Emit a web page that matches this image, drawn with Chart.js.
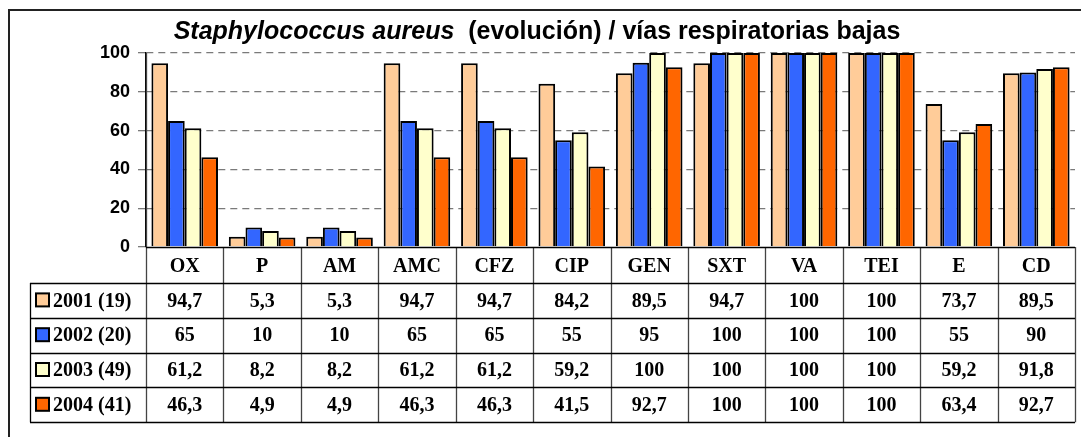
<!DOCTYPE html>
<html>
<head>
<meta charset="utf-8">
<script src="https://cdn.jsdelivr.net/npm/chart.js@4/dist/chart.umd.min.js"></script>
<style>
  html, body { margin: 0; padding: 0; background: #fff; }
  #wrap { width: 1081px; height: 437px; }
</style>
</head>
<body>
<div id="wrap"><canvas id="chart" width="1081" height="437"></canvas></div>
<script>
const categories = ['OX', 'P', 'AM', 'AMC', 'CFZ', 'CIP', 'GEN', 'SXT', 'VA', 'TEI', 'E', 'CD'];
const seriesLabels = ['2001 (19)', '2002 (20)', '2003 (49)', '2004 (41)'];
const values2001 = [94.7, 5.3, 5.3, 94.7, 94.7, 84.2, 89.5, 94.7, 100, 100, 73.7, 89.5];
const values2002 = [65, 10, 10, 65, 65, 55, 95, 100, 100, 100, 55, 90];
const values2003 = [61.2, 8.2, 8.2, 61.2, 61.2, 59.2, 100, 100, 100, 100, 59.2, 91.8];
const values2004 = [46.3, 4.9, 4.9, 46.3, 46.3, 41.5, 92.7, 100, 100, 100, 63.4, 92.7];
const yTicks = [0, 20, 40, 60, 80, 100];

const seriesValues = [values2001, values2002, values2003, values2004];
const colors = ['#FFCC99', '#3366FF', '#FFFFCC', '#FF6600'];

const SANS = "'Liberation Sans', Arial, sans-serif";
const SERIF = "'Liberation Serif', 'Times New Roman', serif";
const ROW_H = 34.8;

// title with italic species name, frame, and the data table under the axis
const tablePlugin = {
    id: 'tablePlugin',
    afterDraw(chart) {
        const ctx = chart.ctx;
        const area = chart.chartArea;
        const x = chart.scales.x;
        const colW = (area.right - area.left) / categories.length;
        const headBottom = area.bottom + 36;
        const tableBottom = headBottom + ROW_H * seriesLabels.length;
        const legendLeft = 30;

        ctx.save();

        // outer frame (top + left only, rest is cut off)
        ctx.strokeStyle = '#222';
        ctx.lineWidth = 2;
        ctx.beginPath();
        ctx.moveTo(9, 437);
        ctx.lineTo(9, 10);
        ctx.lineTo(1081, 10);
        ctx.stroke();

        // title
        ctx.fillStyle = '#000';
        ctx.textBaseline = 'alphabetic';
        ctx.textAlign = 'left';
        const part1 = 'Staphylococcus aureus';
        const part2 = '  (evolución) / vías respiratorias bajas';
        ctx.font = 'italic bold 25px ' + SANS;
        const w1 = ctx.measureText(part1).width;
        ctx.font = 'bold 25px ' + SANS;
        const w2 = ctx.measureText(part2).width;
        let tx = 537 - (w1 + w2) / 2;
        ctx.font = 'italic bold 25px ' + SANS;
        ctx.fillText(part1, tx, 39);
        ctx.font = 'bold 25px ' + SANS;
        ctx.fillText(part2, tx + w1, 39);

        // table grid
        ctx.lineWidth = 1.3;
        ctx.strokeStyle = '#444';
        ctx.beginPath();
        for (let i = 0; i <= categories.length; i++) {
            const cx = Math.round(area.left + i * colW) + 0.5;
            ctx.moveTo(cx, i === 0 ? area.top : area.bottom);
            ctx.lineTo(cx, tableBottom);
        }
        ctx.stroke();

        ctx.strokeStyle = '#000';
        ctx.beginPath();
        ctx.moveTo(area.left, Math.round(area.bottom) + 0.5);
        ctx.lineTo(area.right, Math.round(area.bottom) + 0.5);
        for (let r = 0; r <= seriesLabels.length; r++) {
            const ry = Math.round(headBottom + r * ROW_H) + 0.5;
            ctx.moveTo(legendLeft, ry);
            ctx.lineTo(area.right, ry);
        }
        ctx.moveTo(legendLeft + 0.5, headBottom);
        ctx.lineTo(legendLeft + 0.5, tableBottom);
        ctx.stroke();

        // rows: legend key + values
        ctx.font = 'bold 20px ' + SERIF;
        ctx.textBaseline = 'middle';
        for (let r = 0; r < seriesLabels.length; r++) {
            const cy = headBottom + r * ROW_H + ROW_H / 2;
            ctx.fillStyle = colors[r];
            ctx.fillRect(36, cy - 7, 13, 13);
            ctx.strokeStyle = '#000';
            ctx.lineWidth = 2;
            ctx.strokeRect(36, cy - 7, 13, 13);
            ctx.fillStyle = '#000';
            ctx.textAlign = 'left';
            ctx.fillText(seriesLabels[r], 53, cy + 1);
            ctx.textAlign = 'center';
            seriesValues[r].forEach((v, i) => {
                const label = String(v).replace('.', ',');
                ctx.fillText(label, x.getPixelForValue(i), cy + 1);
            });
        }
        ctx.restore();
    }
};

new Chart(document.getElementById('chart'), {
    type: 'bar',
    data: {
        labels: categories,
        datasets: seriesLabels.map((label, i) => ({
            label: label,
            data: seriesValues[i],
            backgroundColor: colors[i],
            borderColor: '#000',
            borderWidth: 2,
            categoryPercentage: 0.86,
            barPercentage: 1.0,
        }))
    },
    options: {
        responsive: false,
        animation: false,
        layout: {
            padding: { top: 53, bottom: 154, left: 0, right: 6 }
        },
        plugins: {
            legend: { display: false },
            tooltip: { enabled: false },
            title: { display: false }
        },
        scales: {
            x: {
                grid: { display: false },
                border: { display: false },
                afterFit: (scale) => { scale.height = 36; },
                ticks: {
                    color: '#000',
                    padding: 0,
                    font: { family: SERIF, size: 20, weight: 'bold' }
                }
            },
            y: {
                min: 0,
                max: 100,
                afterFit: (scale) => { scale.width = 146; },
                afterBuildTicks: (scale) => {
                    scale.ticks = yTicks.map(v => ({ value: v }));
                },
                grid: {
                    color: (c) => c.tick && c.tick.value === 0 ? 'rgba(0,0,0,0)' : '#7a7a7a',
                    lineWidth: 1.3,
                    tickLength: 8,
                    tickColor: '#7a7a7a'
                },
                border: {
                    display: true,
                    color: '#000',
                    width: 1.3,
                    dash: [7, 5]
                },
                ticks: {
                    color: '#000',
                    padding: 8,
                    font: { family: SANS, size: 18, weight: 'bold' }
                }
            }
        }
    },
    plugins: [tablePlugin]
});
</script>
</body>
</html>
